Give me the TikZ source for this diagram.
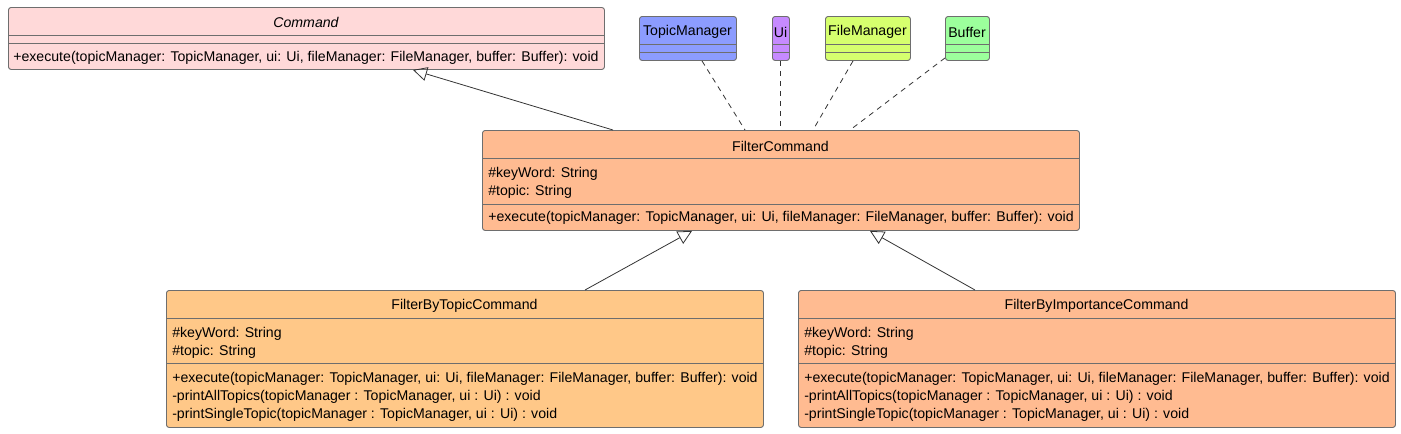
\documentclass[tikz,border=0pt]{standalone}
\usepackage{fontspec}
\setmainfont{Liberation Sans}
\usetikzlibrary{arrows.meta,calc}
\definecolor{cmdfill}{HTML}{FFD9D9}
\definecolor{tmfill}{HTML}{8C9CFF}
\definecolor{uifill}{HTML}{C68AFF}
\definecolor{fmfill}{HTML}{D6FF6E}
\definecolor{buffill}{HTML}{9CFF9C}
\definecolor{fcfill}{HTML}{FFBB91}
\definecolor{fbtfill}{HTML}{FFC888}
\definecolor{edge}{HTML}{6E6E6E}
\tikzset{
  classbox/.style={draw=edge, line width=0.7pt, rounded corners=2pt, inner sep=0pt, anchor=north west},
  sep/.style={draw=edge, line width=0.7pt},
  txt/.style={inner sep=0pt, font=\fontsize{10.6}{12}\selectfont, anchor=west, yshift=-0.9pt},
  ctxt/.style={inner sep=0pt, font=\fontsize{10.6}{12}\selectfont, anchor=center, yshift=-0.9pt},
  inh/.style={draw=black!80, line width=0.6pt, -{Triangle[open, length=10.5pt, width=10.5pt]}},
  dep/.style={draw=black!80, line width=0.6pt, dash pattern=on 4pt off 3.5pt},
}
\begin{document}
\begin{tikzpicture}[x=0.75pt, y=-0.75pt]
\useasboundingbox (0,0) rectangle (1401,433);
% Command
\node[classbox, fill=cmdfill, minimum width=596*0.75pt, minimum height=62*0.75pt] (cmd) at (8,7) {};
\draw[sep] (8,35) -- (604,35);
\draw[sep] (8,43) -- (604,43);
\node[ctxt, font=\fontsize{10.6}{12}\selectfont\itshape] (cmdname) at (306,21) {Command};
\node[txt] (cmdm) at (13,57) {+execute(topicManager: TopicManager, ui: Ui, fileManager: FileManager, buffer: Buffer): void};
% small classes
\node[classbox, fill=tmfill, minimum width=97*0.75pt, minimum height=44*0.75pt] (tm) at (639,16) {};
\draw[sep] (639,44) -- (736,44);
\draw[sep] (639,52) -- (736,52);
\node[ctxt] (tmname) at (687.5,31) {TopicManager};
\node[classbox, fill=uifill, minimum width=17*0.75pt, minimum height=44*0.75pt] (ui) at (772,16) {};
\draw[sep] (772,44) -- (789,44);
\draw[sep] (772,52) -- (789,52);
\node[ctxt] (uiname) at (780.5,31) {Ui};
\node[classbox, fill=fmfill, minimum width=85*0.75pt, minimum height=44*0.75pt] (fm) at (825,16) {};
\draw[sep] (825,44) -- (910,44);
\draw[sep] (825,52) -- (910,52);
\node[ctxt] (fmname) at (867.5,31) {FileManager};
\node[classbox, fill=buffill, minimum width=44*0.75pt, minimum height=44*0.75pt] (buf) at (945,16) {};
\draw[sep] (945,44) -- (989,44);
\draw[sep] (945,52) -- (989,52);
\node[ctxt] (bufname) at (967,31) {Buffer};
% FilterCommand
\node[classbox, fill=fcfill, minimum width=597*0.75pt, minimum height=100*0.75pt] (fc) at (482,130) {};
\draw[sep] (482,158) -- (1079,158);
\draw[sep] (482,204) -- (1079,204);
\node[ctxt] (fcname) at (780.5,145) {FilterCommand};
\node[txt] (fca1) at (488,173) {\#keyWord: String};
\node[txt] (fca2) at (488,191) {\#topic: String};
\node[txt] (fcm) at (488,217) {+execute(topicManager: TopicManager, ui: Ui, fileManager: FileManager, buffer: Buffer): void};
% FilterByTopicCommand
\node[classbox, fill=fbtfill, minimum width=597*0.75pt, minimum height=137*0.75pt] (fbt) at (166,290) {};
\draw[sep] (166,318) -- (763,318);
\draw[sep] (166,363) -- (763,363);
\node[ctxt] (fbtname) at (464.5,305) {FilterByTopicCommand};
\node[txt] (fbta1) at (172,333) {\#keyWord: String};
\node[txt] (fbta2) at (172,351) {\#topic: String};
\node[txt] (fbtm1) at (172,378) {+execute(topicManager: TopicManager, ui: Ui, fileManager: FileManager, buffer: Buffer): void};
\node[txt] (fbtm2) at (172,396) {-printAllTopics(topicManager : TopicManager, ui : Ui) : void};
\node[txt] (fbtm3) at (172,414) {-printSingleTopic(topicManager : TopicManager, ui : Ui) : void};
% FilterByImportanceCommand
\node[classbox, fill=fcfill, minimum width=597*0.75pt, minimum height=137*0.75pt] (fbi) at (798,290) {};
\draw[sep] (798,318) -- (1395,318);
\draw[sep] (798,363) -- (1395,363);
\node[ctxt] (fbiname) at (1096.5,305) {FilterByImportanceCommand};
\node[txt] (fbia1) at (804,333) {\#keyWord: String};
\node[txt] (fbia2) at (804,351) {\#topic: String};
\node[txt] (fbim1) at (804,378) {+execute(topicManager: TopicManager, ui: Ui, fileManager: FileManager, buffer: Buffer): void};
\node[txt] (fbim2) at (804,396) {-printAllTopics(topicManager : TopicManager, ui : Ui) : void};
\node[txt] (fbim3) at (804,414) {-printSingleTopic(topicManager : TopicManager, ui : Ui) : void};
% connectors
\draw[inh] ($(fc.north west)+(131,0)$) -- ($(cmd.south west)+(405,0)$);
\draw[inh] ($(fbt.north west)+(419,0)$) -- ($(fc.south west)+(210,0)$);
\draw[inh] ($(fbi.north west)+(177,0)$) -- ($(fc.south west)+(388,0)$);
\draw[dep] ($(tm.south west)+(63,0)$) -- ($(fc.north west)+(263,0)$);
\draw[dep] ($(ui.south west)+(8,0)$) -- ($(fc.north west)+(298,0)$);
\draw[dep] ($(fm.south west)+(28,0)$) -- ($(fc.north west)+(331,0)$);
\draw[dep] ($(buf.south west)+(0,-3)$) -- ($(fc.north west)+(368,0)$);
\end{tikzpicture}
\end{document}
